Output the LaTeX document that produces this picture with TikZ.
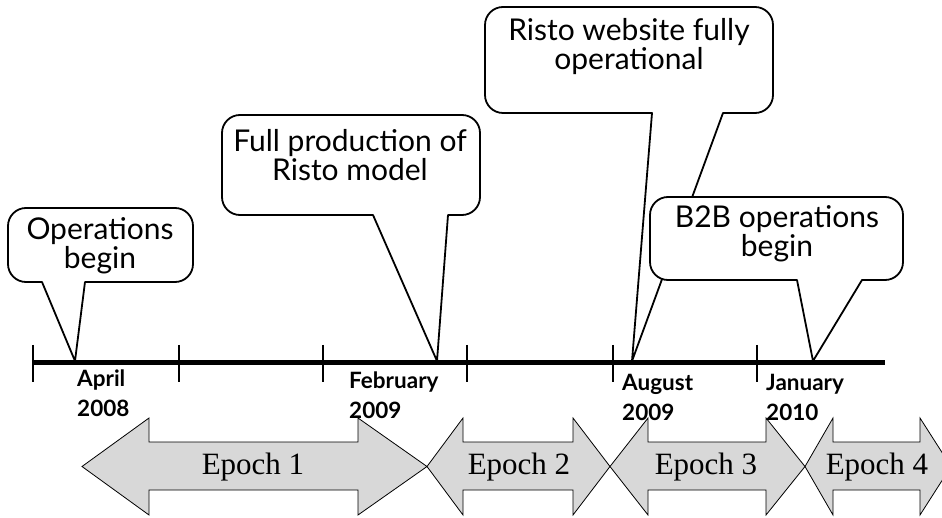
\documentclass[tikz,border=0pt]{standalone}
\usepackage{fontspec}
\setmainfont{Liberation Serif}
\newfontfamily\callfont{Lato}
\definecolor{arrowgray}{HTML}{D8D8D8}
\tikzset{
  bubble/.style={draw=black, line width=1.8pt, fill=white, line join=round},
  bubbletext/.style={font=\callfont\fontsize{30}{29}\selectfont, align=center, inner sep=0pt},
  datelabel/.style={font=\callfont\bfseries\fontsize{22.5}{30}\selectfont, align=left, anchor=north west, inner sep=0pt},
  epocharrow/.style={draw=black, line width=0.8pt, fill=arrowgray, line join=miter},
  epochtext/.style={font=\fontsize{31}{31}\selectfont, inner sep=0pt},
  timeline/.style={line width=5pt},
  tickmark/.style={line width=1.5pt},
}
% #1 x-left, #2 y-top, #3 x-right, #4 y-bottom, #5 pointer base left, #6 pointer base right, #7 tip coordinate
\newcommand\bubbleshape[7]{%
  \draw[bubble] (#5,-#4) -- (#7) -- (#6,-#4) -- ({#3-18},-#4)
    arc[start angle=-90,end angle=0,radius=18pt] -- (#3,{-#2-18})
    arc[start angle=0,end angle=90,radius=18pt] -- ({#1+18},-#2)
    arc[start angle=90,end angle=180,radius=18pt] -- (#1,{-#4+18})
    arc[start angle=180,end angle=270,radius=18pt] -- cycle;}
% #1 left tip, #2 left head base, #3 right head base, #4 right tip
\newcommand\epochshape[4]{%
  \draw[epocharrow] (#1,-466.5) -- (#2,-418) -- (#2,-442) -- (#3,-442) -- (#3,-418)
    -- (#4,-466.5) -- (#3,-515) -- (#3,-490) -- (#2,-490) -- (#2,-515) -- cycle;}
\begin{document}
\begin{tikzpicture}[x=1pt,y=1pt]
\useasboundingbox (0,0) rectangle (942,-518);
\clip (0,0) rectangle (942,-518);
\fill[white] (0,0) rectangle (942,-518);

% timeline points
\coordinate (tlstart) at (33,-363);
\coordinate (tlend) at (885,-363);
\coordinate (t1) at (75,-361);
\coordinate (t2) at (437,-361);
\coordinate (t3) at (632,-361);
\coordinate (t4) at (813,-361);

% callouts
\bubbleshape{485}{7}{773}{113}{652}{723}{t3}
\bubbleshape{650}{197}{903}{280}{797}{862}{t4}
\bubbleshape{8}{208}{193}{282}{42}{85}{t1}
\bubbleshape{222}{115}{480}{215}{373}{448}{t2}

\node[bubbletext] (c1) at (100,-246) {Operations\\begin};
\node[bubbletext] (c2) at (350,-155) {Full production of\\Risto model};
\node[bubbletext] (c3) at (629,-47) {Risto website fully\\operational};
\node[bubbletext] (c4) at (777,-234) {B2B operations\\begin};

% timeline
\draw[timeline] (tlstart) -- (tlend);
\foreach \x [count=\i] in {33,179,323,467,613,757} {
  \coordinate (tk\i a) at (\x,-345);
  \coordinate (tk\i b) at (\x,-382);
  \draw[tickmark] (tk\i a) -- (tk\i b);
}

% epochs
\epochshape{82}{149}{358}{427}
\epochshape{427}{463}{573}{610}
\epochshape{610}{648}{766}{805}
\epochshape{805}{833}{920}{951}
\node[epochtext] (e1) at (253,-467) {Epoch 1};
\node[epochtext] (e2) at (519,-467) {Epoch 2};
\node[epochtext] (e3) at (706,-467) {Epoch 3};
\node[epochtext] (e4) at (877,-467) {Epoch 4};

% dates
\node[datelabel] (d1) at (77,-370) {April\\2008};
\node[datelabel] (d2) at (349,-372) {February\\2009};
\node[datelabel] (d3) at (622,-374) {August\\2009};
\node[datelabel] (d4) at (766,-374) {January\\2010};
\end{tikzpicture}
\end{document}
